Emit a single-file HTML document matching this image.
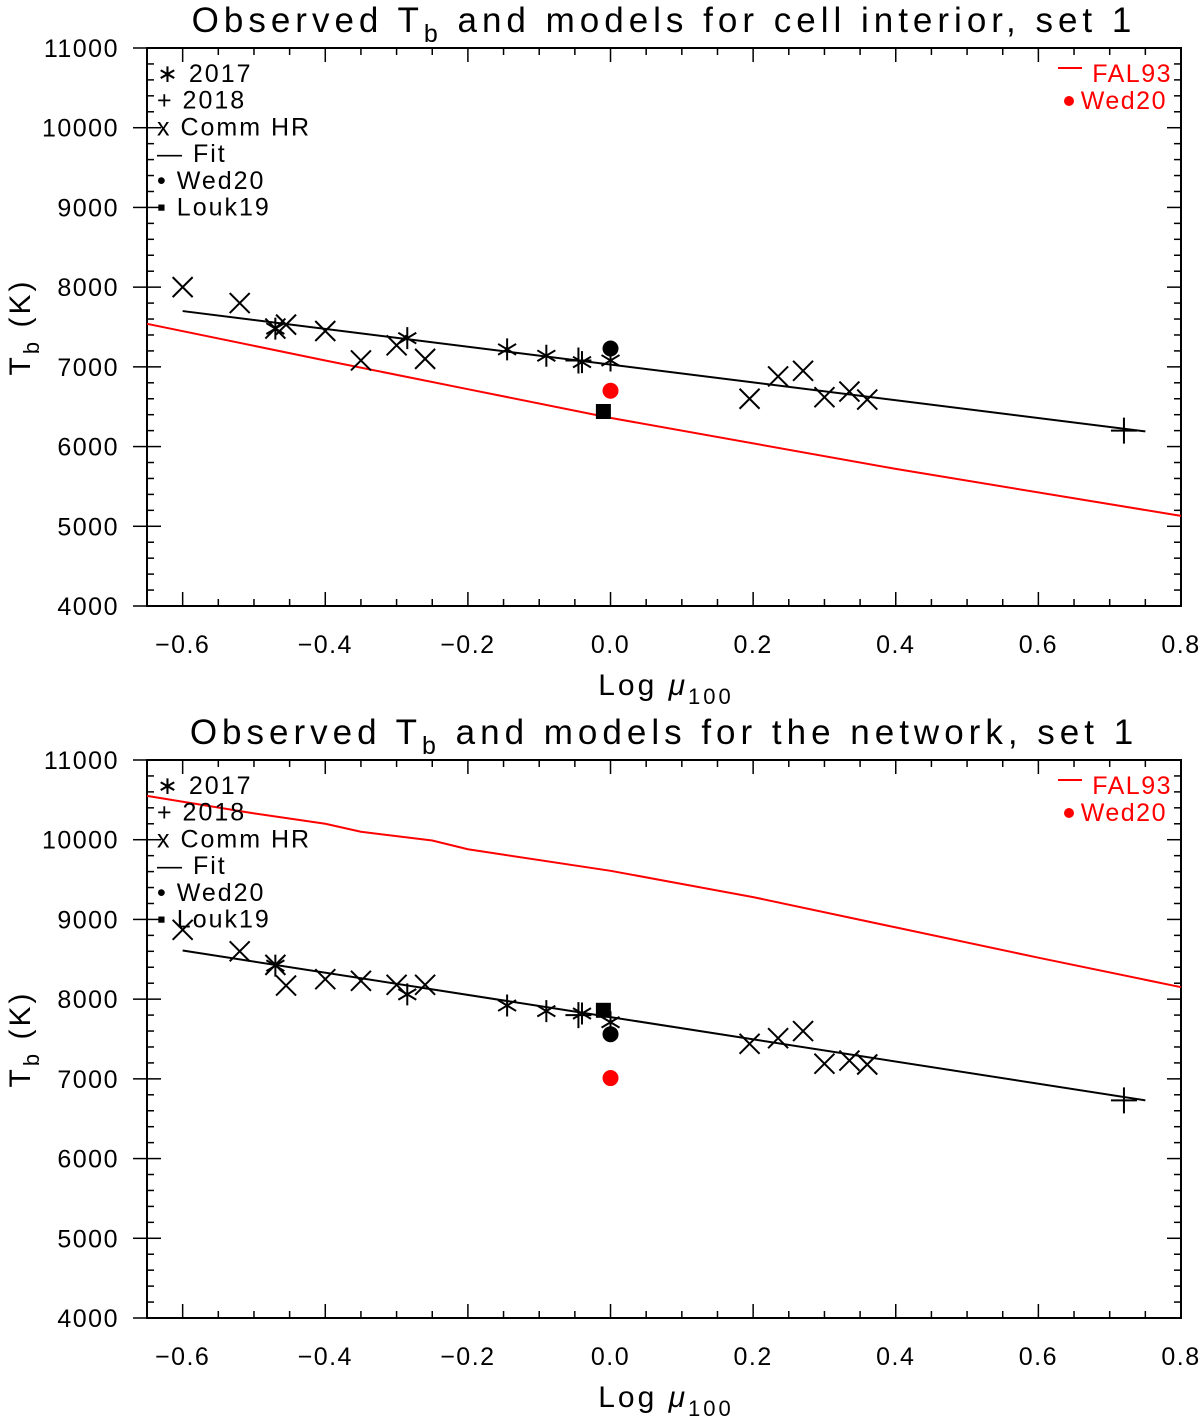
<!DOCTYPE html>
<html><head><meta charset="utf-8"><style>
html,body{margin:0;padding:0;background:#fff}
svg text{font-family:"Liberation Sans","DejaVu Sans",sans-serif}
</style></head><body>
<svg id="chart" width="1200" height="1421" viewBox="0 0 1200 1421" xmlns="http://www.w3.org/2000/svg"></svg>
<script>
// ---------- data ----------
const xTicks = [-0.6,-0.4,-0.2,0.0,0.2,0.4,0.6,0.8];
const xTickLabels = ["\u22120.6","\u22120.4","\u22120.2","0.0","0.2","0.4","0.6","0.8"];
const yTicks = [4000,5000,6000,7000,8000,9000,10000,11000];
const yTickLabels = ["4000","5000","6000","7000","8000","9000","10000","11000"];

const cellCommX = [-0.6,-0.52,-0.47,-0.455,-0.4,-0.35,-0.3,-0.26,0.195,0.235,0.27,0.3,0.335,0.36];
const cellCommT = [8000,7800,7480,7530,7450,7080,7270,7100,6600,6880,6950,6620,6690,6590];
const cell2017X = [-0.47,-0.285,-0.145,-0.09,-0.04,0.0];
const cell2017T = [7480,7360,7220,7140,7060,7080];
const cell2018X = [-0.045,0.72];
const cell2018T = [7080,6200];
const cellFitX = [-0.6,0.75];
const cellFitT = [7700,6190];
const cellFalX = [-0.65,-0.4,-0.2,0.0,0.4,0.8];
const cellFalT = [7540,7080,6720,6360,5720,5130];
const cellWedBlack = [0.0,7230];
const cellWedRed = [0.0,6700];
const cellLouk = [-0.01,6440];

const netCommX = [-0.6,-0.52,-0.47,-0.455,-0.4,-0.35,-0.3,-0.26,0.195,0.235,0.27,0.3,0.335,0.36];
const netCommT = [8870,8600,8430,8170,8250,8230,8180,8180,7440,7510,7600,7190,7230,7180];
const net2017X = [-0.47,-0.285,-0.145,-0.09,-0.04,0.0];
const net2017T = [8420,8060,7920,7850,7820,7710];
const net2018X = [-0.045,0.72];
const net2018T = [7800,6730];
const netFitX = [-0.6,0.75];
const netFitT = [8610,6730];
const netFalX = [-0.65,-0.5,-0.4,-0.35,-0.25,-0.2,0.0,0.2,0.4,0.6,0.8];
const netFalT = [10550,10330,10200,10100,9990,9880,9610,9280,8900,8520,8150];
const netWedBlack = [0.0,7560];
const netWedRed = [0.0,7010];
const netLouk = [-0.01,7860];

// ---------- drawing ----------
const svg = document.getElementById('chart');
const NS = 'http://www.w3.org/2000/svg';
function mk(tag, attrs, parent){
  const e = document.createElementNS(NS, tag);
  for (const k in attrs) e.setAttribute(k, attrs[k]);
  (parent||svg).appendChild(e);
  return e;
}
const X0=147, X1=1181;
function sx(x){ return X0 + (x+0.65)/(1.45)*(X1-X0); }

function panel(top, title, commX, commT, s17X, s17T, s18X, s18T, fitX, fitT, falX, falT, wedB, wedR, louk, pname){
  const Y0=top, Y1=top+558;
  const sy = t => Y1 - (t-4000)/7000*(Y1-Y0);
  const g = mk('g',{});
  
  
  const tt = mk('text',{x:664,y:top-16,'font-size':35,'text-anchor':'middle','letter-spacing':'5'},g);
  
  
  tt.innerHTML = title;
  const fr = mk('rect',{x:X0,y:Y0,width:X1-X0,height:Y1-Y0,fill:'none',stroke:'#000','stroke-width':2},g);
  
  
  for (let v=4000; v<=11000; v+=200){
    const y=sy(v); const major = v%1000===0;
    mk('line',{x1:X0,x2:X0+(major?14:7),y1:y,y2:y,stroke:'#000','stroke-width':1.5},g);
    mk('line',{x1:X1,x2:X1-(major?14:7),y1:y,y2:y,stroke:'#000','stroke-width':1.5},g);
  }
  yTicks.forEach((v,i)=>{
    const y=sy(v);
    mk('line',{x1:X0-14,x2:X0,y1:y,y2:y,stroke:'#000','stroke-width':1.5},g);
    const t = mk('text',{x:X0-28,y:y+9,'font-size':25,'text-anchor':'end','letter-spacing':'1.5'},g);
    
    
    t.textContent = yTickLabels[i];
  });
  for (let k=-13;k<=16;k++){
    const v=k*0.05; const x=sx(v); const major = (k%4===0);
    mk('line',{x1:x,x2:x,y1:Y1,y2:Y1-(major?14:7),stroke:'#000','stroke-width':1.5},g);
    mk('line',{x1:x,x2:x,y1:Y0,y2:Y0+(major?14:7),stroke:'#000','stroke-width':1.5},g);
  }
  xTicks.forEach((v,i)=>{
    const x=sx(v);
    const t = mk('text',{x:x,y:Y1+47,'font-size':25,'text-anchor':'middle','letter-spacing':'1.5'},g);
    
    
    t.textContent = xTickLabels[i];
  });
  const xt = mk('text',{x:666,y:Y1+89,'font-size':30,'text-anchor':'middle','letter-spacing':'3'},g);
  
  
  xt.innerHTML = 'Log <tspan font-style="italic">\u03bc</tspan><tspan font-size="22" dy="9">100</tspan>';
  const yt = mk('text',{x:0,y:0,'font-size':30,'text-anchor':'middle','letter-spacing':'3',transform:`translate(30,${(Y0+Y1)/2}) rotate(-90)`},g);
  
  
  yt.innerHTML = 'T<tspan font-size="22" dy="9">b</tspan><tspan dy="-9"> (K)</tspan>';
  const fal = mk('polyline',{points:falX.map((x,i)=>sx(x)+','+sy(falT[i])).join(' '),fill:'none',stroke:'#f00','stroke-width':2},g);
  
  
  const fit = mk('polyline',{points:fitX.map((x,i)=>sx(x)+','+sy(fitT[i])).join(' '),fill:'none',stroke:'#000','stroke-width':2},g);
  
  
  commX.forEach((x,i)=>{
    const cx=sx(x), cy=sy(commT[i]), r=10;
    const p = mk('path',{d:`M${cx-r},${cy-r}L${cx+r},${cy+r}M${cx-r},${cy+r}L${cx+r},${cy-r}`,stroke:'#000','stroke-width':2},g);
    
    
  });
  s17X.forEach((x,i)=>{
    const cx=sx(x), cy=sy(s17T[i]), r=11, d=9;
    const p = mk('path',{d:`M${cx},${cy-r}L${cx},${cy+r}M${cx-d},${cy-d*0.6}L${cx+d},${cy+d*0.6}M${cx-d},${cy+d*0.6}L${cx+d},${cy-d*0.6}`,stroke:'#000','stroke-width':2},g);
    
    
  });
  s18X.forEach((x,i)=>{
    const cx=sx(x), cy=sy(s18T[i]), r=13;
    const p = mk('path',{d:`M${cx},${cy-r}L${cx},${cy+r}M${cx-r},${cy}L${cx+r},${cy}`,stroke:'#000','stroke-width':2},g);
    
    
  });
  const wb = mk('circle',{cx:sx(wedB[0]),cy:sy(wedB[1]),r:8,fill:'#000'},g);
  
  
  const wr = mk('circle',{cx:sx(wedR[0]),cy:sy(wedR[1]),r:8,fill:'#f00'},g);
  
  
  const lk = mk('rect',{x:sx(louk[0])-7.5,y:sy(louk[1])-7.5,width:15,height:15,fill:'#000'},g);
  
  
  const leg = ['\u2217 2017','+ 2018','x Comm HR','\u2014 Fit','\u2022 Wed20','\u25aa Louk19'];
  const lg = mk('g',{},g);
  
  
  leg.forEach((l,i)=>{
    const t = mk('text',{x:157,y:Y0+34+i*26.7,'font-size':25,'letter-spacing':'2'},lg);
    
    
    t.textContent = l;
  });
  const rl = mk('g',{},g);
  
  
  mk('line',{x1:1058,x2:1082,y1:Y0+20,y2:Y0+20,stroke:'#f00','stroke-width':2},rl);
  const t1 = mk('text',{x:1172,y:Y0+34,'font-size':25,fill:'#f00','text-anchor':'end','letter-spacing':'1.5'},rl);
  
  
  t1.textContent='FAL93';
  mk('circle',{cx:1069,cy:Y0+53,r:5,fill:'#f00'},rl);
  const t2 = mk('text',{x:1167,y:Y0+61,'font-size':25,fill:'#f00','text-anchor':'end','letter-spacing':'1.5'},rl);
  
  
  t2.textContent='Wed20';
}
panel(48,'Observed T<tspan font-size="25" dy="10">b</tspan><tspan dy="-10"> and models for cell interior, set 1</tspan>',
  cellCommX,cellCommT,cell2017X,cell2017T,cell2018X,cell2018T,cellFitX,cellFitT,cellFalX,cellFalT,cellWedBlack,cellWedRed,cellLouk,'cell-interior-panel');
panel(760,'Observed T<tspan font-size="25" dy="10">b</tspan><tspan dy="-10"> and models for the network, set 1</tspan>',
  netCommX,netCommT,net2017X,net2017T,net2018X,net2018T,netFitX,netFitT,netFalX,netFalT,netWedBlack,netWedRed,netLouk,'network-panel');
</script>
</body></html>
